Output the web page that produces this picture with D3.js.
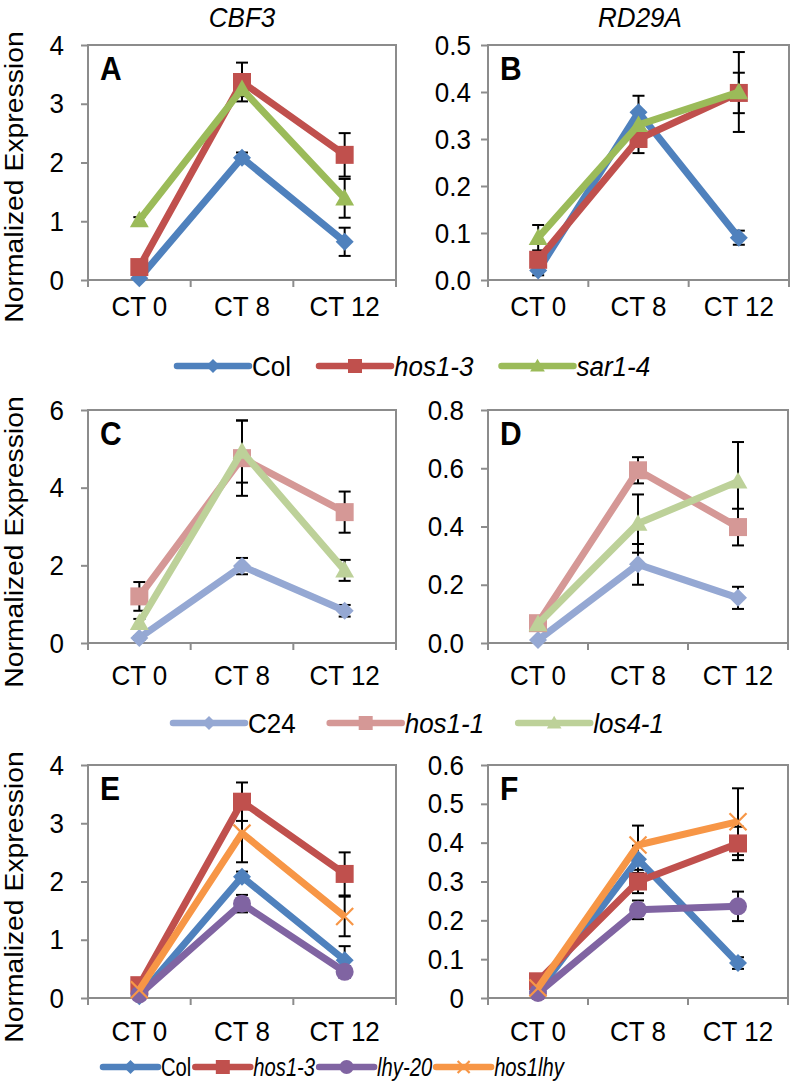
<!DOCTYPE html>
<html><head><meta charset="utf-8">
<script src="https://cdn.jsdelivr.net/npm/d3@7"></script>
<style>body{margin:0;background:#fff}svg{display:block}</style>
</head><body><svg id="c" width="793" height="1088"></svg>
<script>
const categories = ["CT 0", "CT 8", "CT 12"];
const geneTitles = ["CBF3", "RD29A"];

// Panel A (CBF3, Col / hos1-3 / sar1-4)
const colA = [0.03, 2.08, 0.65],   colA_err = [0.03, 0.09, 0.24];
const hos13A = [0.22, 3.37, 2.13], hos13A_err = [0.05, 0.33, 0.37];
const sar14A = [1.02, 3.25, 1.39], sar14A_err = [0.05, 0.12, 0.33];
// Panel B (RD29A)
const colB = [0.02, 0.357, 0.09],  colB_err = [0.01, 0.035, 0.015];
const hos13B = [0.043, 0.30, 0.398], hos13B_err = [0.01, 0.03, 0.043];
const sar14B = [0.09, 0.33, 0.40], sar14B_err = [0.027, 0.03, 0.085];
// Panel C (CBF3, C24 / hos1-1 / los4-1)
const c24C = [0.13, 1.98, 0.83],   c24C_err = [0.05, 0.21, 0.15];
const hos11C = [1.20, 4.76, 3.37], hos11C_err = [0.37, 0.97, 0.53];
const los41C = [0.52, 4.93, 1.87], los41C_err = [0.1, 0.8, 0.27];
// Panel D (RD29A)
const c24D = [0.01, 0.27, 0.155],  c24D_err = [0.005, 0.07, 0.038];
const hos11D = [0.068, 0.593, 0.398], hos11D_err = [0.01, 0.045, 0.063];
const los41D = [0.065, 0.41, 0.555], los41D_err = [0.01, 0.1, 0.135];
// Panel E (CBF3, Col / hos1-3 / lhy-20 / hos1lhy)
const colE = [0.03, 2.08, 0.65],   colE_err = [0.03, 0.09, 0.24];
const hos13E = [0.22, 3.37, 2.13], hos13E_err = [0.05, 0.33, 0.37];
const lhy20E = [0.06, 1.62, 0.45], lhy20E_err = [0.02, 0.15, 0.1];
const hos1lhyE = [0.14, 2.83, 1.40], hos1lhyE_err = [0.03, 0.5, 0.34];
// Panel F (RD29A)
const colF = [0.017, 0.357, 0.09], colF_err = [0.01, 0.035, 0.015];
const hos13F = [0.043, 0.30, 0.398], hos13F_err = [0.01, 0.03, 0.043];
const lhy20F = [0.013, 0.227, 0.236], lhy20F_err = [0.005, 0.024, 0.038];
const hos1lhyF = [0.026, 0.394, 0.454], hos1lhyF_err = [0.005, 0.05, 0.086];

// Y tick labels
const yTicksA = ["0", "1", "2", "3", "4"];
const yTicksB = ["0.0", "0.1", "0.2", "0.3", "0.4", "0.5"];
const yTicksC = ["0", "2", "4", "6"];
const yTicksD = ["0.0", "0.2", "0.4", "0.6", "0.8"];
const yTicksE = ["0", "1", "2", "3", "4"];
const yTicksF = ["0", "0.1", "0.2", "0.3", "0.4", "0.5", "0.6"];

const legend1 = ["Col", "hos1-3", "sar1-4"];
const legend2 = ["C24", "hos1-1", "los4-1"];
const legend3 = ["Col", "hos1-3", "lhy-20", "hos1lhy"];
const italicNames = ["hos1-3", "sar1-4", "hos1-1", "los4-1", "lhy-20", "hos1lhy"];

const C = {
  col: "#4F81BD", hos13: "#C0504D", sar14: "#9BBB59",
  c24: "#95A8D3", hos11: "#D59896", los41: "#BDD199",
  lhy: "#8064A2", hos1lhy: "#F79646"
};

const FONT = "'Liberation Sans', Arial, sans-serif";
const VS = 1.09; // vertical stretch of lettering in the reference
const svg = d3.select("#c");

function markerPath(type, r) {
  if (type === "diamond") return `M0,${-r}L${r},0L0,${r}L${-r},0Z`;
  if (type === "square") return `M${-r},${-r}H${r}V${r}H${-r}Z`;
  if (type === "triangle") return `M0,${-r*1.05}L${r*1.05},${r*0.8}L${-r*1.05},${r*0.8}Z`;
  if (type === "x") return `M${-r},${-r}L${r},${r}M${-r},${r}L${r},${-r}`;
  return d3.symbol(d3.symbolCircle, Math.PI * r * r)();
}
function drawMarker(g, type, x, y, color, r) {
  const p = g.append("path").attr("d", markerPath(type, r))
    .attr("transform", `translate(${x},${y})`);
  if (type === "x") p.attr("fill", "none").attr("stroke", color).attr("stroke-width", 2.2);
  else p.attr("fill", color).attr("stroke", "none");
}
function txt(g, x, y, s, fs, opts = {}) {
  return g.append("text").attr("transform", `translate(${x},${y}) scale(${opts.sx || 1},${VS})`)
    .attr("text-anchor", opts.anchor || "start").attr("font-family", FONT).attr("font-size", fs)
    .attr("font-style", opts.italic ? "italic" : "normal").attr("font-weight", opts.bold ? "bold" : "normal")
    .attr("fill", "#000").text(s);
}

function panel(cfg) {
  const g = svg.append("g");
  const x = d3.scaleBand().domain(categories).range([cfg.x0, cfg.x1]);
  const y = d3.scaleLinear().domain([0, +cfg.yTicks[cfg.yTicks.length - 1]]).range([cfg.y1, cfg.y0]);

  g.append("rect").attr("x", cfg.x0).attr("y", cfg.y0)
    .attr("width", cfg.x1 - cfg.x0).attr("height", cfg.y1 - cfg.y0)
    .attr("fill", "none").attr("stroke", "#8C8C8C").attr("stroke-width", 2);

  const ya = g.append("g").attr("transform", `translate(${cfg.x0},0)`)
    .call(d3.axisLeft(y).tickValues(cfg.yTicks.map(Number)).tickSize(7).tickPadding(cfg.yPad)
      .tickFormat((d, i) => cfg.yTicks[i]));
  ya.select(".domain").remove();
  ya.selectAll(".tick line").attr("stroke", "#8C8C8C").attr("stroke-width", 2);
  ya.selectAll(".tick text").attr("font-family", FONT).attr("font-size", 26).attr("fill", "#000")
    .attr("transform", `scale(1,${VS})`);

  const xa = g.append("g").attr("transform", `translate(0,${cfg.y1})`)
    .call(d3.axisBottom(x).tickSize(0).tickPadding(0));
  xa.select(".domain").remove();
  xa.selectAll(".tick text").attr("font-family", FONT).attr("font-size", 26).attr("fill", "#000")
    .attr("y", 0).attr("dy", 0).attr("transform", `translate(0,${cfg.xBase}) scale(1,${VS})`);
  const bounds = categories.map(c => x(c)).concat([x(categories[categories.length - 1]) + x.bandwidth()]);
  g.selectAll(null).data(bounds).join("line")
    .attr("x1", d => d).attr("x2", d => d).attr("y1", cfg.y1).attr("y2", cfg.y1 + 7)
    .attr("stroke", "#8C8C8C").attr("stroke-width", 2);

  const cx = c => x(c) + x.bandwidth() / 2;

  cfg.series.forEach(s => {
    s.values.forEach((v, i) => {
      const e = s.errors[i], xc = cx(categories[i]);
      g.append("line").attr("x1", xc).attr("x2", xc).attr("y1", y(v - e)).attr("y2", y(v + e))
        .attr("stroke", "#000").attr("stroke-width", 2);
      [v - e, v + e].forEach(w => g.append("line").attr("x1", xc - 6).attr("x2", xc + 6)
        .attr("y1", y(w)).attr("y2", y(w)).attr("stroke", "#000").attr("stroke-width", 2));
    });
  });

  const line = d3.line().x((d, i) => cx(categories[i])).y(d => y(d));
  cfg.series.forEach(s => {
    g.append("path").datum(s.values).attr("d", line).attr("fill", "none")
      .attr("stroke", s.color).attr("stroke-width", 7).attr("stroke-linejoin", "round");
    s.values.forEach((v, i) => drawMarker(g, s.marker, cx(categories[i]), y(v), s.color, s.marker === "x" ? 8.5 : 9));
  });

  txt(g, cfg.x0 + 12, cfg.y0 + 35, cfg.letter, 30, { bold: true });

  if (cfg.ylabel) {
    g.append("text").attr("transform", `translate(23,${cfg.y0 + 132}) scale(1,${VS}) rotate(-90)`)
      .attr("text-anchor", "middle").text("Normalized Expression")
      .attr("font-family", FONT).attr("font-size", 26);
  }
}

function S(values, errors, color, marker) { return { values, errors, color, marker }; }

panel({ letter: "A", x0: 88, x1: 396, y0: 45, y1: 280, yTicks: yTicksA, yPad: 17, xBase: 36, ylabel: true,
  series: [S(colA, colA_err, C.col, "diamond"), S(hos13A, hos13A_err, C.hos13, "square"), S(sar14A, sar14A_err, C.sar14, "triangle")] });
panel({ letter: "B", x0: 488, x1: 789, y0: 45, y1: 280, yTicks: yTicksB, yPad: 10, xBase: 36,
  series: [S(colB, colB_err, C.col, "diamond"), S(hos13B, hos13B_err, C.hos13, "square"), S(sar14B, sar14B_err, C.sar14, "triangle")] });
panel({ letter: "C", x0: 88, x1: 396, y0: 410, y1: 643, yTicks: yTicksC, yPad: 17, xBase: 42, ylabel: true,
  series: [S(c24C, c24C_err, C.c24, "diamond"), S(hos11C, hos11C_err, C.hos11, "square"), S(los41C, los41C_err, C.los41, "triangle")] });
panel({ letter: "D", x0: 488, x1: 788, y0: 410, y1: 643, yTicks: yTicksD, yPad: 17, xBase: 42,
  series: [S(c24D, c24D_err, C.c24, "diamond"), S(hos11D, hos11D_err, C.hos11, "square"), S(los41D, los41D_err, C.los41, "triangle")] });
panel({ letter: "E", x0: 88, x1: 396, y0: 765, y1: 998, yTicks: yTicksE, yPad: 17, xBase: 43, ylabel: true,
  series: [S(colE, colE_err, C.col, "diamond"), S(hos13E, hos13E_err, C.hos13, "square"), S(lhy20E, lhy20E_err, C.lhy, "circle"), S(hos1lhyE, hos1lhyE_err, C.hos1lhy, "x")] });
panel({ letter: "F", x0: 488, x1: 788, y0: 765, y1: 998, yTicks: yTicksF, yPad: 17, xBase: 43,
  series: [S(colF, colF_err, C.col, "diamond"), S(hos13F, hos13F_err, C.hos13, "square"), S(lhy20F, lhy20F_err, C.lhy, "circle"), S(hos1lhyF, hos1lhyF_err, C.hos1lhy, "x")] });

geneTitles.forEach((t, i) => txt(svg, i === 0 ? 242 : 640, 27, t, 26, { italic: true, anchor: "middle" }));

function legend(names, colors, markers, yc, x0, lineLen, fs, sx, gap) {
  const g = svg.append("g");
  let cur = x0;
  names.forEach((n, i) => {
    g.append("line").attr("x1", cur).attr("x2", cur + lineLen).attr("y1", yc).attr("y2", yc)
      .attr("stroke", colors[i]).attr("stroke-width", 6.5).attr("stroke-linecap", "round");
    drawMarker(g, markers[i], cur + lineLen / 2, yc, colors[i], markers[i] === "x" ? 6 : 7);
    const t = txt(g, cur + lineLen + 3, yc + fs * 0.36 * VS, n, fs, { italic: italicNames.includes(n), sx });
    cur += lineLen + 3 + t.node().getComputedTextLength() * sx + gap;
  });
}
legend(legend1, [C.col, C.hos13, C.sar14], ["diamond", "square", "triangle"], 366, 177, 72, 26, 1, 28);
legend(legend2, [C.c24, C.hos11, C.los41], ["diamond", "square", "triangle"], 723, 173, 72, 26, 1, 34);
legend(legend3, [C.col, C.hos13, C.lhy, C.hos1lhy], ["diamond", "square", "circle", "x"], 1067, 103, 55, 23.5, 0.86, 4);
</script>
</body></html>
